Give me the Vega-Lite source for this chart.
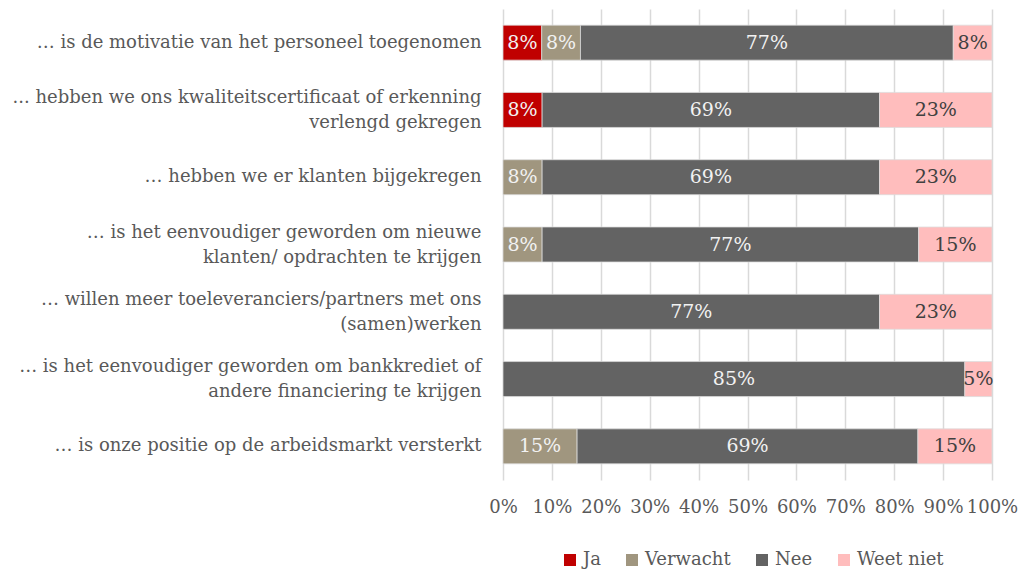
{
  "$schema": "https://vega.github.io/schema/vega-lite/v6.json",
  "width": 489,
  "height": 471,
  "autosize": {"type": "none"},
  "padding": {"left": 503, "top": 9, "right": 26, "bottom": 91},
  "config": {
    "view": {"stroke": null},
    "font": "DejaVu Serif",
    "axis": {"labelFont": "DejaVu Serif"},
    "legend": {"labelFont": "DejaVu Serif"},
    "text": {"font": "DejaVu Serif"}
  },
  "data": {
    "values": [
      {"cat": "… is de motivatie van het personeel toegenomen", "answer": "Ja", "ord": 1, "value": 8},
      {"cat": "… is de motivatie van het personeel toegenomen", "answer": "Verwacht", "ord": 2, "value": 8},
      {"cat": "… is de motivatie van het personeel toegenomen", "answer": "Nee", "ord": 3, "value": 77},
      {"cat": "… is de motivatie van het personeel toegenomen", "answer": "Weet niet", "ord": 4, "value": 8},
      {"cat": "... hebben we ons kwaliteitscertificaat of erkenning|verlengd gekregen", "answer": "Ja", "ord": 1, "value": 8},
      {"cat": "... hebben we ons kwaliteitscertificaat of erkenning|verlengd gekregen", "answer": "Nee", "ord": 3, "value": 69},
      {"cat": "... hebben we ons kwaliteitscertificaat of erkenning|verlengd gekregen", "answer": "Weet niet", "ord": 4, "value": 23},
      {"cat": "… hebben we er klanten bijgekregen", "answer": "Verwacht", "ord": 2, "value": 8},
      {"cat": "… hebben we er klanten bijgekregen", "answer": "Nee", "ord": 3, "value": 69},
      {"cat": "… hebben we er klanten bijgekregen", "answer": "Weet niet", "ord": 4, "value": 23},
      {"cat": "… is het eenvoudiger geworden om nieuwe|klanten/ opdrachten te krijgen", "answer": "Verwacht", "ord": 2, "value": 8},
      {"cat": "… is het eenvoudiger geworden om nieuwe|klanten/ opdrachten te krijgen", "answer": "Nee", "ord": 3, "value": 77},
      {"cat": "… is het eenvoudiger geworden om nieuwe|klanten/ opdrachten te krijgen", "answer": "Weet niet", "ord": 4, "value": 15},
      {"cat": "… willen meer toeleveranciers/partners met ons|(samen)werken", "answer": "Nee", "ord": 3, "value": 77},
      {"cat": "… willen meer toeleveranciers/partners met ons|(samen)werken", "answer": "Weet niet", "ord": 4, "value": 23},
      {"cat": "… is het eenvoudiger geworden om bankkrediet of|andere financiering te krijgen", "answer": "Nee", "ord": 3, "value": 85},
      {"cat": "… is het eenvoudiger geworden om bankkrediet of|andere financiering te krijgen", "answer": "Weet niet", "ord": 4, "value": 5},
      {"cat": "… is onze positie op de arbeidsmarkt versterkt", "answer": "Verwacht", "ord": 2, "value": 15},
      {"cat": "… is onze positie op de arbeidsmarkt versterkt", "answer": "Nee", "ord": 3, "value": 69},
      {"cat": "… is onze positie op de arbeidsmarkt versterkt", "answer": "Weet niet", "ord": 4, "value": 15}
    ]
  },
  "transform": [
    {"stack": "value", "groupby": ["cat"], "sort": [{"field": "ord"}], "offset": "normalize", "as": ["x0", "x1"]},
    {"calculate": "(datum.x0 + datum.x1) / 2", "as": "xm"},
    {"calculate": "datum.value + '%'", "as": "lbl"}
  ],
  "encoding": {
    "y": {
      "field": "cat",
      "type": "nominal",
      "sort": null,
      "scale": {"paddingInner": 0.48, "paddingOuter": 0.24},
      "axis": {
        "title": null,
        "ticks": false,
        "domain": false,
        "labelPadding": 22,
        "labelFont": "DejaVu Serif",
        "labelFontSize": 18,
        "labelColor": "#595959",
        "labelExpr": "split(datum.label, '|')",
        "labelLineHeight": 25,
        "labelLimit": 600,
        "labelAlign": "right",
        "labelBaseline": "middle",
        "labelOffset": {"condition": {"test": "indexof(datum.value, '|') >= 0", "value": -12}, "value": 0}
      }
    }
  },
  "layer": [
    {
      "mark": {"type": "bar", "stroke": "#dcdcdc", "strokeWidth": 0.75},
      "encoding": {
        "x": {
          "field": "x0",
          "type": "quantitative",
          "scale": {"domain": [0, 1], "nice": false},
          "axis": {
            "title": null,
            "format": ".0%",
            "values": [0, 0.1, 0.2, 0.3, 0.4, 0.5, 0.6, 0.7, 0.8, 0.9, 1],
            "grid": true,
            "gridColor": "#d9d9d9",
            "gridWidth": 1.5,
            "domain": false,
            "ticks": false,
            "labelPadding": 18,
            "labelFont": "DejaVu Serif",
            "labelFontSize": 18,
            "labelColor": "#595959",
            "labelFlush": false,
            "labelOverlap": false
          }
        },
        "x2": {"field": "x1"},
        "color": {
          "field": "answer",
          "type": "nominal",
          "scale": {"domain": ["Ja", "Verwacht", "Nee", "Weet niet"], "range": ["#C00000", "#A0967F", "#636363", "#FFBDBD"]},
          "legend": {
            "orient": "none",
            "legendX": 58,
            "legendY": 542,
            "direction": "horizontal",
            "title": null,
            "symbolType": "square",
            "symbolSize": 144,
            "symbolStrokeWidth": 0,
            "labelFont": "DejaVu Serif",
            "labelFontSize": 18,
            "labelColor": "#595959",
            "columnPadding": 22,
            "labelOffset": 4
          }
        }
      }
    },
    {
      "mark": {"type": "text", "font": "DejaVu Serif", "fontSize": 19, "baseline": "middle", "align": "center"},
      "encoding": {
        "x": {"field": "xm", "type": "quantitative"},
        "text": {"field": "lbl"},
        "color": {"condition": {"test": "datum.answer === 'Weet niet'", "value": "#404040"}, "value": "#f2f2f2"}
      }
    }
  ]
}
